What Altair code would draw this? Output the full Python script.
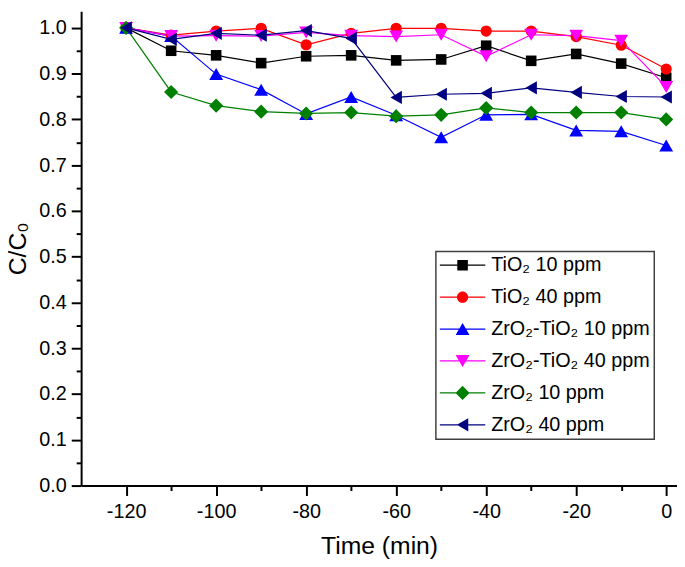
import altair as alt
import pandas as pd

# ---------------- data ----------------
time_min = [-120, -110, -100, -90, -80, -70, -60, -50, -40, -30, -20, -10, 0]

series_names = [
    "TiO\u2082 10 ppm",
    "TiO\u2082 40 ppm",
    "ZrO\u2082-TiO\u2082 10 ppm",
    "ZrO\u2082-TiO\u2082 40 ppm",
    "ZrO\u2082 10 ppm",
    "ZrO\u2082 40 ppm",
]

tio2_10 = [1.000, 0.950, 0.940, 0.923, 0.938, 0.940, 0.929, 0.931, 0.961, 0.928, 0.943, 0.922, 0.891]
tio2_40 = [1.000, 0.984, 0.993, 0.999, 0.963, 0.988, 0.999, 0.999, 0.993, 0.993, 0.981, 0.962, 0.910]
zrti_10 = [1.000, 0.982, 0.899, 0.865, 0.812, 0.849, 0.809, 0.761, 0.810, 0.811, 0.776, 0.774, 0.743]
zrti_40 = [1.000, 0.982, 0.983, 0.982, 0.990, 0.983, 0.981, 0.985, 0.938, 0.985, 0.983, 0.972, 0.871]
zro2_10 = [1.000, 0.860, 0.830, 0.817, 0.813, 0.815, 0.807, 0.810, 0.825, 0.815, 0.815, 0.815, 0.800]
zro2_40 = [1.000, 0.975, 0.988, 0.984, 0.994, 0.977, 0.848, 0.855, 0.857, 0.869, 0.859, 0.850, 0.849]

all_series = [tio2_10, tio2_40, zrti_10, zrti_40, zro2_10, zro2_40]

x_major = [-120, -100, -80, -60, -40, -20, 0]
x_minor = [-110, -90, -70, -50, -30, -10]
y_major = [0.0, 0.1, 0.2, 0.3, 0.4, 0.5, 0.6, 0.7, 0.8, 0.9, 1.0]
y_minor = [0.05, 0.15, 0.25, 0.35, 0.45, 0.55, 0.65, 0.75, 0.85, 0.95]

# ---------------- styles ----------------
colors = ["#000000", "#ff0000", "#0000ff", "#ff00ff", "#008000", "#000080"]
shapes = ["square", "circle", "triangle-up", "triangle-down", "diamond", "triangle-left"]
sizes = [115, 128, 196, 196, 205, 177]

# legend symbols: unit = 10 px (symbolSize 400); line from -1 to 3.6, marker at 1.3
LINE = "M-1,-0.065L3.6,-0.065L3.6,0.065L-1,0.065Z"
legend_paths = [
    LINE + "M0.765,-0.535L1.835,-0.535L1.835,0.535L0.765,0.535Z",
    LINE + "M0.735,0A0.565,0.565 0 1,1 1.865,0A0.565,0.565 0 1,1 0.735,0Z",
    LINE + "M1.3,-0.606L2.0,0.606L0.6,0.606Z",
    LINE + "M0.6,-0.606L2.0,-0.606L1.3,0.606Z",
    LINE + "M1.3,-0.715L2.015,0L1.3,0.715L0.585,0Z",
    LINE + "M0.724,0L1.876,-0.665L1.876,0.665Z",
]

FONT = "Liberation Sans"

rows = []
for name, vals in zip(series_names, all_series):
    for t, v in zip(time_min, vals):
        rows.append({"series": name, "time": t, "value": v})
df = pd.DataFrame(rows)

x_scale = alt.Scale(domain=[-130, 2.4], nice=False, zero=False)
y_scale = alt.Scale(domain=[0, 1.0363], nice=False, zero=False)

base = alt.Chart(df)

lines = base.mark_line(strokeWidth=1.2).encode(
    x=alt.X("time:Q", scale=x_scale,
            axis=alt.Axis(orient="bottom", values=x_major, title="Time (min)", tickSize=10,
                          labelPadding=6, titlePadding=13, grid=False,
                          labelExpr="datum.value < 0 ? '-' + (-datum.value) : '' + datum.value")),
    y=alt.Y("value:Q", scale=y_scale,
            axis=alt.Axis(orient="left", values=y_major, format=".1f", title="C/C\u2080",
                          tickSize=10, labelPadding=5, titlePadding=8, grid=False)),
    color=alt.Color("series:N", scale=alt.Scale(domain=series_names, range=colors), legend=None),
)

points = base.mark_point(filled=True, opacity=1).encode(
    x=alt.X("time:Q", scale=x_scale,
            axis=alt.Axis(orient="bottom", values=x_minor, tickSize=5, labels=False,
                          domain=False, title=None, grid=False)),
    y=alt.Y("value:Q", scale=y_scale,
            axis=alt.Axis(orient="left", values=y_minor, tickSize=5, labels=False,
                          domain=False, title=None, grid=False)),
    color=alt.Color("series:N", scale=alt.Scale(domain=series_names, range=colors), legend=None),
    shape=alt.Shape("series:N", scale=alt.Scale(domain=series_names, range=shapes), legend=None),
    size=alt.Size("series:N", scale=alt.Scale(type="ordinal", domain=series_names, range=sizes), legend=None),
)

leg = alt.Legend(
    orient="none", legendX=359, legendY=243, title=None,
    labelFont=FONT, labelFontSize=20, labelColor="black", labelOffset=32, labelLimit=0,
    symbolSize=400, symbolStrokeWidth=0, symbolOpacity=1,
    strokeColor="#404040", fillColor="white", padding=4, rowPadding=12.3,
)

legend_layer = base.mark_point(filled=True).encode(
    x=alt.X("time:Q", scale=x_scale, axis=None),
    y=alt.Y("value:Q", scale=y_scale, axis=None),
    color=alt.Color("series:N", scale=alt.Scale(domain=series_names, range=colors), legend=leg),
    shape=alt.Shape("series:N", scale=alt.Scale(domain=series_names, range=legend_paths), legend=leg),
).transform_filter("datum.time > 1000")

chart = (
    alt.layer(lines, points, legend_layer)
    .resolve_scale(color="independent", shape="independent", size="independent")
    .resolve_axis(x="independent", y="independent")
    .properties(
        width=603, height=480,
        autosize=alt.AutoSizeParams(type="none"),
        padding={"left": 74, "top": 0, "right": 0, "bottom": 71},
    )
    .configure_view(stroke=None)
    .configure_axis(
        labelFont=FONT, titleFont=FONT, labelFontSize=20, titleFontSize=25,
        titleFontWeight="normal", labelColor="black", titleColor="black",
        domainColor="black", tickColor="black", domainWidth=2, tickWidth=2,
    )
    .configure_legend(strokeWidth=1.5)
)

chart.save("out.html", embed_options={"renderer": "svg", "actions": False})
